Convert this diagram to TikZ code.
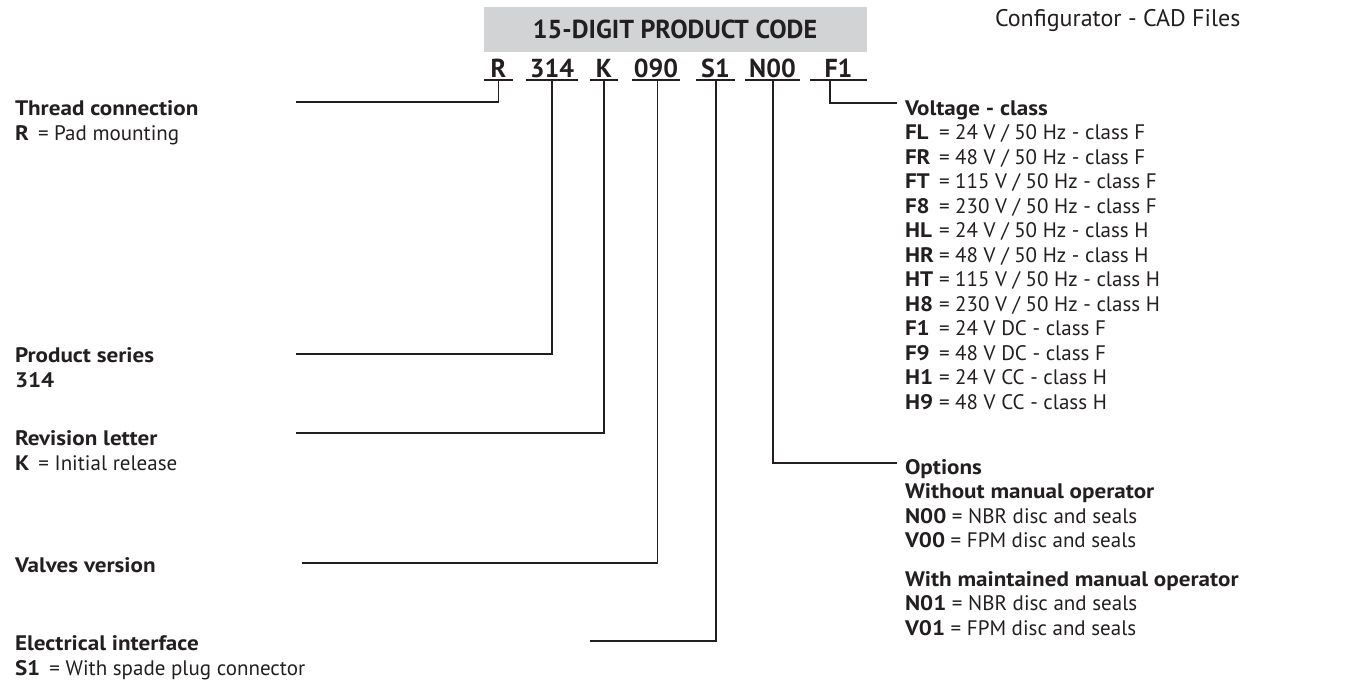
\documentclass[tikz,border=0pt]{standalone}
\usepackage{fontspec}
\setmainfont{PT Sans}
\newfontfamily\bodyfont{PT Sans}[BoldFeatures={FakeStretch=1.1}]
\definecolor{ink}{HTML}{231F20}
\definecolor{boxgray}{HTML}{D1D3D4}
\begin{document}
\begin{tikzpicture}[x=1pt,y=-1pt,
  every node/.style={inner sep=0pt,outer sep=0pt,text=ink},
  lbl/.style={anchor=base west,align=left,font=\bodyfont\fontsize{21}{24.5}\selectfont},
  code/.style={anchor=base,font=\fontsize{26}{26}\selectfont\bfseries,text depth=3pt},
  conn/.style={draw=ink,line width=1.4pt},
  uline/.style={draw=ink,line width=1.6pt}]
\useasboundingbox (0,0) rectangle (1354,686);
% header
\node[fill=boxgray,minimum width=383,minimum height=45,anchor=north west] (hdr) at (484,7) {};
\node[anchor=base,font=\fontsize{26}{26}\selectfont\bfseries] (title) at (675,38) {15-DIGIT PRODUCT CODE};
\node[anchor=base west,font=\bodyfont\fontsize{24}{24}\selectfont] (cad) at (995,26) {Configurator - CAD Files};
% code letters
\node[code,minimum width=29] (cR) at (498.5,77) {R};
\node[code,minimum width=52] (c314) at (552,77) {314};
\node[code,minimum width=28] (cK) at (604,77) {K};
\node[code,minimum width=48] (c090) at (656,77) {090};
\node[code,minimum width=39] (cS1) at (715.5,77) {S1};
\node[code,minimum width=55] (cN00) at (772.5,77) {N00};
\node[code,minimum width=57] (cF1) at (838.5,77) {F1};
\foreach \n in {cR,c314,cK,c090,cS1,cN00,cF1}
  \draw[uline] (\n.south west) -- (\n.south east);
% left labels (anchor = baseline of last line)
\node[lbl] (lR) at (15,140) {\textbf{Thread connection}\\\textbf{R}\,\ =\ Pad mounting};
\node[lbl] (l314) at (15,387) {\textbf{Product series}\\\textbf{314}};
\node[lbl] (lK) at (15,470) {\textbf{Revision letter}\\\textbf{K}\,\ =\ Initial release};
\node[lbl] (l090) at (15,572) {\textbf{Valves version}};
\node[lbl] (lS1) at (15,675) {\textbf{Electrical interface}\\\textbf{S1}\,\ =\ With spade plug connector};
% right labels
\newcommand{\vc}[2]{\makebox[34pt][l]{\textbf{#1}}=\ #2}
\node[lbl] (lF1) at (905,409) {\textbf{Voltage - class}\\
\vc{FL}{24 V / 50 Hz - class F}\\
\vc{FR}{48 V / 50 Hz - class F}\\
\vc{FT}{115 V / 50 Hz - class F}\\
\vc{F8}{230 V / 50 Hz - class F}\\
\vc{HL}{24 V / 50 Hz - class H}\\
\vc{HR}{48 V / 50 Hz - class H}\\
\vc{HT}{115 V / 50 Hz - class H}\\
\vc{H8}{230 V / 50 Hz - class H}\\
\vc{F1}{24 V DC - class F}\\
\vc{F9}{48 V DC - class F}\\
\vc{H1}{24 V CC - class H}\\
\vc{H9}{48 V CC - class H}};
\newcommand{\oc}[2]{\textbf{#1}\ =\ #2}
\node[lbl] (lN00) at (905,635) {\textbf{Options}\\
\textbf{Without manual operator}\\
\oc{N00}{NBR disc and seals}\\
\oc{V00}{FPM disc and seals}\\[14pt]
\textbf{With maintained manual operator}\\
\oc{N01}{NBR disc and seals}\\
\oc{V01}{FPM disc and seals}};
% connector ends
\coordinate (eR) at (296,102);
\coordinate (e314) at (296,354);
\coordinate (eK) at (296,433);
\coordinate (e090) at (302,563);
\coordinate (eS1) at (590,641);
\coordinate (eN00) at (897,463);
\coordinate (eF1) at (897,103);
\draw[conn] (cR.south) |- (eR);
\draw[conn] (c314.south) |- (e314);
\draw[conn] (cK.south) |- (eK);
\draw[conn] ([xshift=1.5]c090.south) |- (e090);
\draw[conn] ([xshift=0.5]cS1.south) |- (eS1);
\draw[conn] ([xshift=0.5]cN00.south) |- (eN00);
\draw[conn] ([xshift=-8.5]cF1.south) |- (eF1);
\end{tikzpicture}
\end{document}
